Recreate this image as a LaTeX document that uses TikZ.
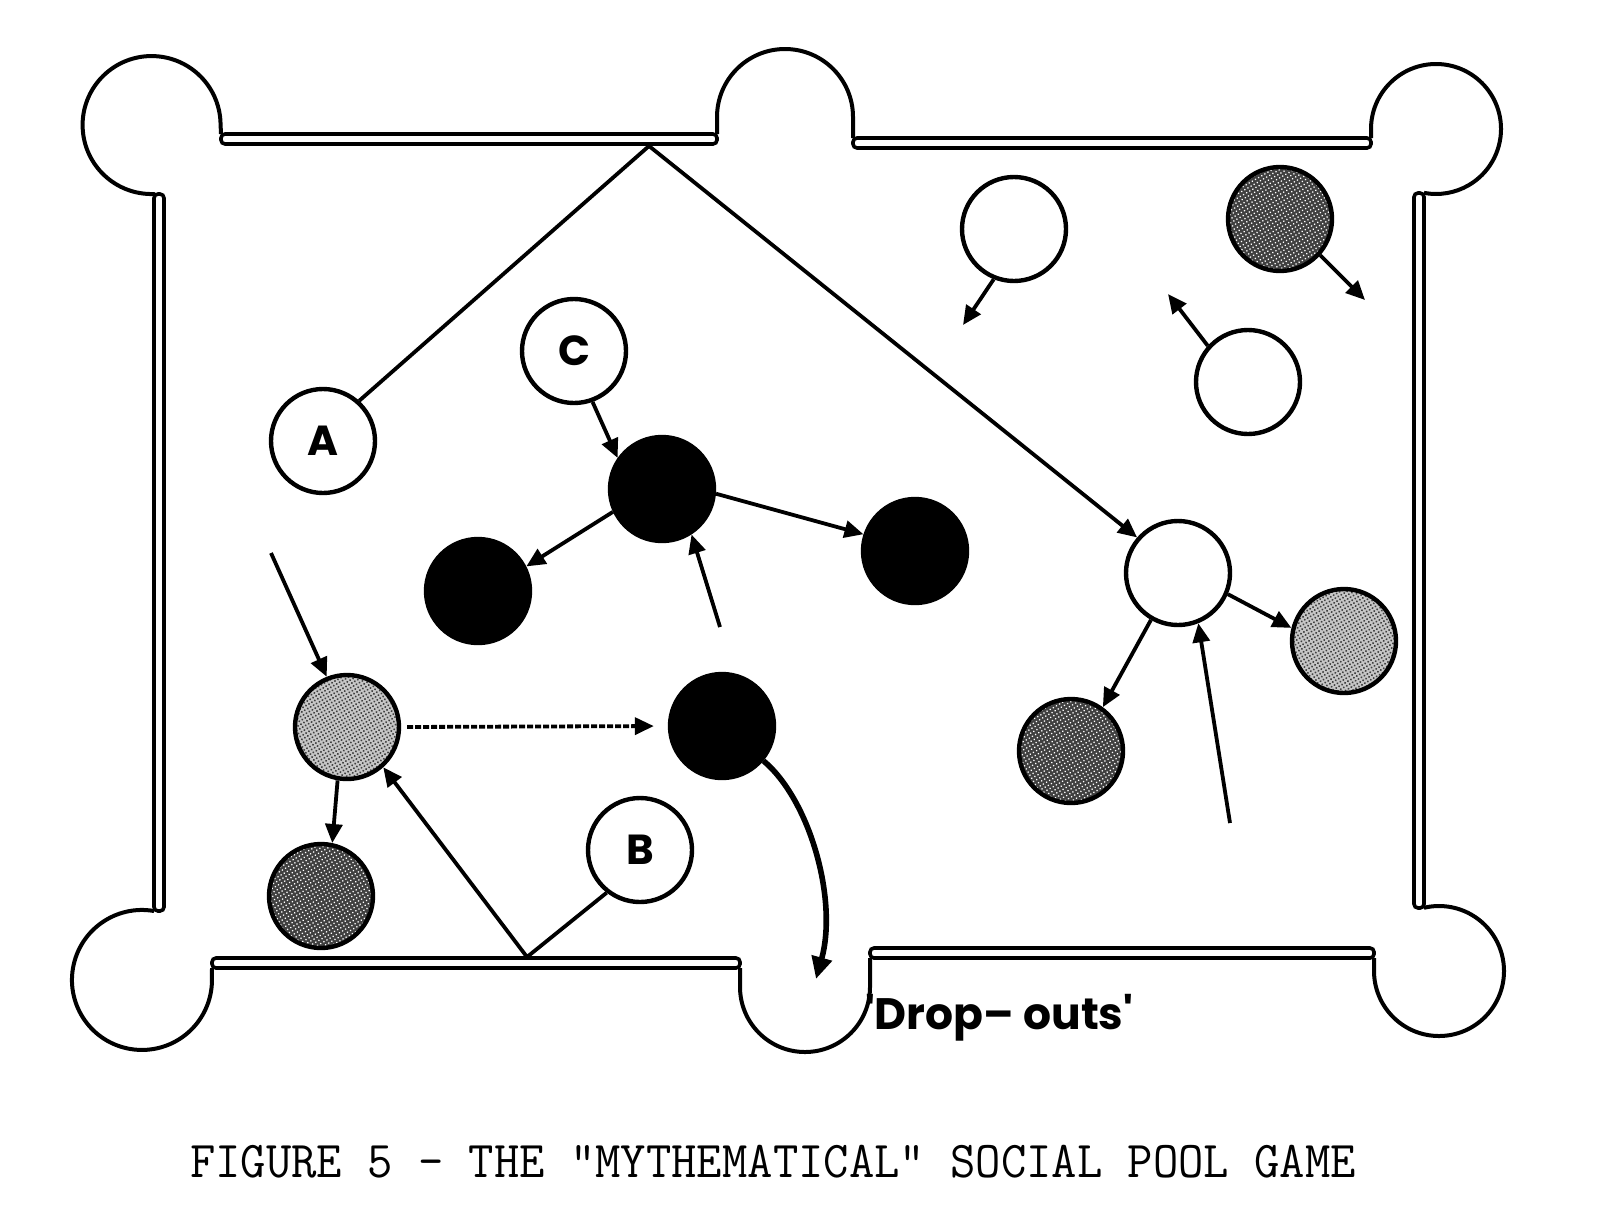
\documentclass[tikz,border=0pt]{standalone}
\usepackage{fontspec}
\usepackage{graphicx}
\usepackage{tikz}
\usetikzlibrary{arrows.meta,patterns.meta}
\newfontfamily\ballfont{Poppins}
\newcommand{\capfont}{\ttfamily\addfontfeature{FakeBold=2}}

\begin{document}
\begin{tikzpicture}[
    x=0.5pt,y=-0.5pt,
    table/.style={line width=2pt,line join=round},
    rail/.style={line width=1.8pt,rounded corners=2pt},
    ball/.style={circle,draw,line width=2.2pt,minimum size=52pt,inner sep=0pt,font=\ballfont\bfseries\fontsize{21}{21}\selectfont},
    cue/.style={ball,fill=white},
    eight/.style={ball,fill=black},
    light/.style={ball,preaction={fill=black!22},pattern={Dots[distance=1.7pt,radius=0.55pt,angle=30]},pattern color=black!75},
    dark/.style={ball,preaction={fill=black!75},pattern={Dots[distance=1.8pt,radius=0.45pt,angle=30]},pattern color=white},
    shot/.style={->,line width=1.9pt},
    >={Triangle[length=9.5pt,width=8.5pt]}
]
\useasboundingbox (0,0) rectangle (1620,1216);

\draw[table] (154,196) -- (154,194) arc[start angle=88,end angle=360,radius=69] -- (221,134);
\draw[table] (717,134) -- (717,117) arc[start angle=180,end angle=360,radius=68] -- (853,138);
\draw[table] (1371,138) -- (1371,129) arc[start angle=180,end angle=460.6,radius=65];
\draw[table] (154,911) arc[start angle=279.9,end angle=0,radius=70] -- (212,968);
\draw[table] (740,968) -- (740,987) arc[start angle=180,end angle=0,radius=65] -- (870,958);
\draw[table] (1374,958) -- (1374,971) arc[start angle=180,end angle=-103.4,radius=65];
\draw[rail] (221,134) rectangle (717,144);
\draw[rail] (853,138) rectangle (1371,148);
\draw[rail] (154,194) rectangle (164,911);
\draw[rail] (1414,193) rectangle (1424,908);
\draw[rail] (212,958) rectangle (740,968);
\draw[rail] (870,948) rectangle (1374,958);

\node[cue] (A) at (323,441) {A};
\node[cue] (C) at (574,351) {C};
\node[cue] (B) at (640,850) {B};
\node[eight] (K1) at (662,489) {};
\node[eight] (K2) at (478,591) {};
\node[eight] (K3) at (915,551) {};
\node[eight] (K4) at (722,726) {};
\node[light] (G1) at (347,727) {};
\node[dark] (D1) at (321,896) {};
\node[cue] (W1) at (1178,573) {};
\node[light] (G2) at (1344,641) {};
\node[dark] (D2) at (1071,751) {};
\node[cue] (W2) at (1014,229) {};
\node[dark] (D3) at (1280,219) {};
\node[cue] (W3) at (1248,382) {};

\coordinate (bankA) at (649,146);
\coordinate (bankB) at (527,957);
\coordinate (in1) at (271,553);
\coordinate (in2) at (720,627);
\coordinate (in3) at (1230,823);
\coordinate (out1) at (963,325);
\coordinate (out2) at (1365,300);
\coordinate (out3) at (1168,294);
\coordinate (drop) at (816,979);

\draw[shot] (A.48) -- (bankA) -- (W1.139);
\draw[shot] (C.-70) -- (K1.145);
\draw[shot] (K1.205) -- (K2.27);
\draw[shot] (K1.-5) -- (K3.162);
\draw[shot] (in2) -- (K1.-57);
\draw[shot] (in1) -- (G1.112);
\draw[shot,dash pattern=on 3pt off 1pt,shorten <=3pt,shorten >=7pt] (G1.0) -- (K4.180);
\draw[shot] (G1.-100) -- (D1.78);
\draw[shot] (B.232) -- (bankB) -- (G1.-48);
\draw[line width=2.8pt,-{Triangle[length=11pt,width=10pt]}] (K4.-40) .. controls (810,800) and (838,900) .. (drop);
\draw[shot] (W2.-112) -- (out1);
\draw[shot] (D3.-42) -- (out2);
\draw[shot] (W3.138) -- (out3);
\draw[shot] (W1.-23) -- (G2.166);
\draw[shot] (W1.-120) -- (D2.54);
\draw[shot] (in3) -- (W1.-68);

\node[anchor=west,font=\ballfont\bfseries\fontsize{22}{22}\selectfont] (dropouts) at (858,1018) {'Drop– outs'};
\node[font=\capfont\fontsize{24.6}{25}\selectfont] (caption) at (773,1162) {\scalebox{1}[1.05]{FIGURE 5 - THE "MYTHEMATICAL" SOCIAL POOL GAME}};
\end{tikzpicture}
\end{document}
